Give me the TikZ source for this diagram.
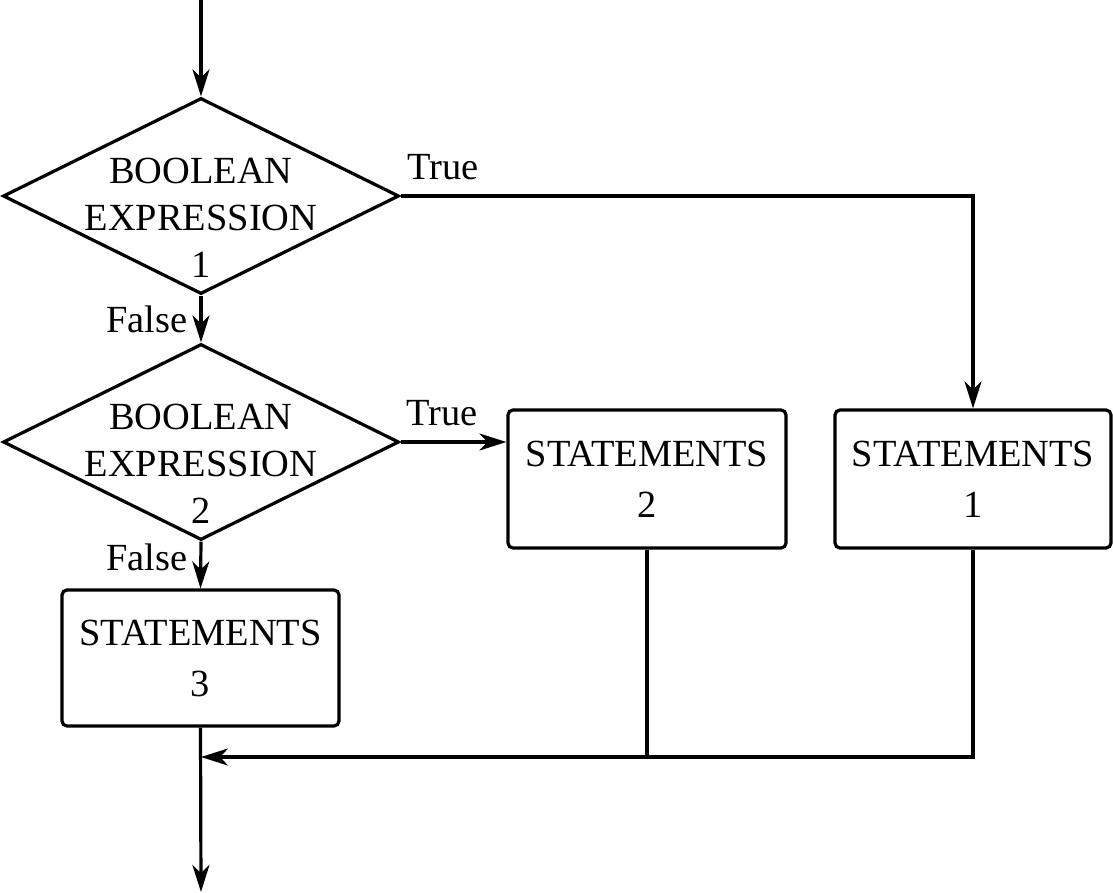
\documentclass[tikz,border=0pt]{standalone}
\usepackage{fontspec}
\setmainfont{Liberation Serif}
\usetikzlibrary{shapes.geometric, arrows.meta}

\begin{document}
\begin{tikzpicture}[x=0.5pt, y=-0.5pt, line width=1.6pt,
    >={Stealth[length=13.5pt, width=8.5pt, inset=4pt]},
    decisao/.style={draw, diamond, minimum width=198pt, minimum height=98pt, inner sep=0pt},
    bloco/.style={draw, rounded corners=2.5pt, inner sep=0pt, align=center,
      font=\fontsize{19.2}{25.5}\selectfont},
    texto/.style={align=center, inner sep=0pt, font=\fontsize{19.2}{23.5}\selectfont},
    rotulo/.style={inner sep=0pt, anchor=base, font=\fontsize{19.2}{22}\selectfont}]
        \useasboundingbox (0,0) rectangle (1113,893);

        % Primeira decisao
        \coordinate (entrada) at (201,0);
        \node[decisao] (bool1) at (201,196) {};
        \node[texto] (txt1) at (201,218) {BOOLEAN\\EXPRESSION\\1};

        % Segunda decisao
        \node[decisao] (bool2) at (201,442) {};
        \node[texto] (txt2) at (201,464) {BOOLEAN\\EXPRESSION\\2};

        % Blocos
        \node[bloco, minimum width=138pt, minimum height=69pt] (stat1) at (973,479) {STATEMENTS\\1};
        \node[bloco, minimum width=139pt, minimum height=69pt] (stat2) at (647,479) {STATEMENTS\\2};
        \node[bloco, minimum width=138.5pt, minimum height=68pt] (stat3) at (200.5,658) {STATEMENTS\\3};

        % Rotulos
        \node[rotulo] (true1) at (443,180) {True};
        \node[rotulo] (true2) at (442,425) {True};
        \node[rotulo] (false1) at (147,332) {False};
        \node[rotulo] (false2) at (147,570) {False};

        \coordinate (juncao) at (201,757);
        \coordinate (saida) at (201,892);

        \draw[->] (entrada) -- (bool1.north);
        \draw[->] (bool1.south) -- (bool2.north);
        \draw[->] (bool1.east) -| (stat1.north);
        \draw[->] (bool2.east) -- (bool2.east -| stat2.west);
        \draw[->] (bool2.south) -- (stat3.north);

        \draw[->] (stat1.south) |- (juncao);
        \draw (stat2.south) -- (stat2.south |- juncao);
        \draw[->] (stat3.south) -- (saida);
    \end{tikzpicture}
\end{document}
